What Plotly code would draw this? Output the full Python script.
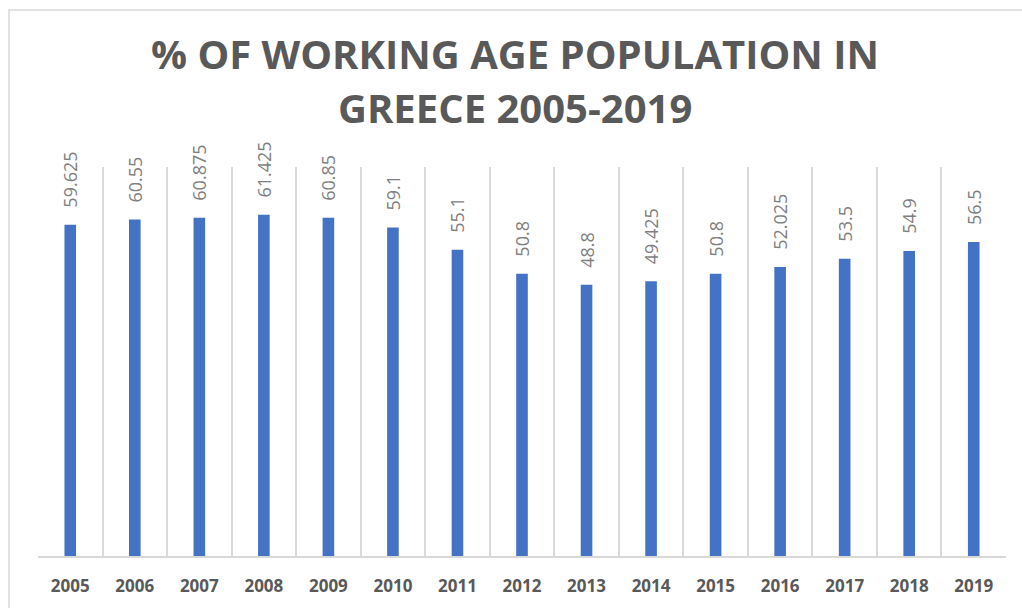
import plotly.graph_objects as go

years = ["2005", "2006", "2007", "2008", "2009", "2010", "2011", "2012",
         "2013", "2014", "2015", "2016", "2017", "2018", "2019"]
share = [59.625, 60.55, 60.875, 61.425, 60.85, 59.1, 55.1, 50.8,
         48.8, 49.425, 50.8, 52.025, 53.5, 54.9, 56.5]
title_lines = ["% OF WORKING AGE POPULATION IN", "GREECE 2005-2019"]

W, H = 1022, 608
L, R, T, B = 38, 16, 167, 52
plot_w, plot_h = W - L - R, H - T - B

pos = list(range(len(years)))            # one slot per year
edges = [p - 0.5 for p in pos] + [pos[-1] + 0.5]   # slot boundaries


def py_to_paper(py):
    # pixel row (from top of page) -> paper fraction of the plot area
    return (H - B - py) / plot_h


def px_to_paper(px):
    return (px - L) / plot_w


# rotated value labels; the leading non-breaking spaces lift the digits
# a little off the top of each bar
labels = ["\u00a0\u00a0\u00a0" + f"{v:g}" for v in share]

fig = go.Figure(go.Bar(
    x=pos, y=share,
    marker=dict(color="#4472C4", line=dict(width=0)),
    width=0.18,
    text=labels, textposition="outside", textangle=-90,
    constraintext="none", cliponaxis=False,
    textfont=dict(size=18, color="#7f7f7f"),
    hovertext=years, hoverinfo="text+y",
))

# two-line chart heading
for line, cy in zip(title_lines, [54, 107]):
    fig.add_annotation(
        x=px_to_paper(515), y=py_to_paper(cy), xref="paper", yref="paper",
        text=f"<b>{line}</b>", showarrow=False,
        xanchor="center", yanchor="middle",
        font=dict(family="Open Sans", size=40, color="#595959"),
    )

fig.update_layout(
    width=W, height=H,
    margin=dict(l=L, r=R, t=T, b=B),
    paper_bgcolor="white", plot_bgcolor="white",
    showlegend=False,
    xaxis=dict(
        range=[edges[0], edges[-1]],
        tickmode="array", tickvals=pos,
        ticktext=[f"<b>{y}</b>" for y in years],
        tickfont=dict(family="Open Sans", size=17, color="#595959"),
        ticks="outside", ticklen=14, tickcolor="rgba(0,0,0,0)",
        showgrid=False, zeroline=False,
        showline=True, linecolor="#d9d9d9", linewidth=1.5,
        minor=dict(tickmode="array", tickvals=edges, showgrid=True,
                   gridcolor="#d9d9d9", gridwidth=1.5, ticks=""),
    ),
    yaxis=dict(
        range=[0, 70], showgrid=False, showticklabels=False,
        zeroline=False, showline=False, ticks="",
    ),
)

# outer chart frame
fig.add_shape(
    type="rect", xref="paper", yref="paper",
    x0=px_to_paper(9), x1=px_to_paper(W + 20),
    y0=-(B + 20) / plot_h, y1=py_to_paper(10),
    line=dict(color="#d9d9d9", width=1.5), fillcolor="rgba(0,0,0,0)",
    layer="below",
)

fig.write_html("out.html")
